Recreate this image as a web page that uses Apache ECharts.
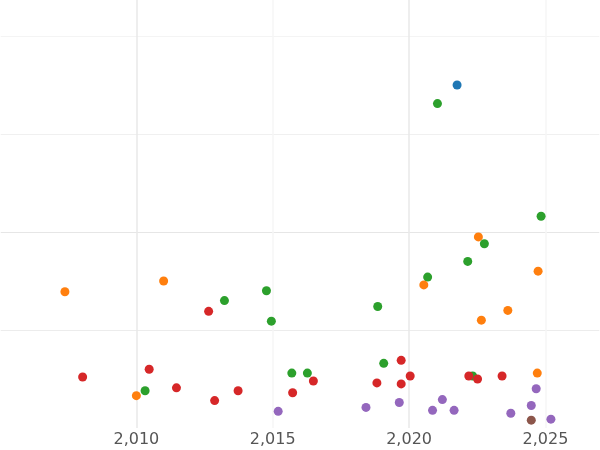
<!DOCTYPE html>
<html><head><meta charset="utf-8">
<script src="https://cdn.jsdelivr.net/npm/echarts@6/dist/echarts.min.js"></script>
<style>html,body{margin:0;padding:0;background:#fff}#c{width:600px;height:450px}</style>
</head><body><div id="c"></div>
<script>
const xTicks = [2005, 2010, 2015, 2020, 2025];
const blue = [[2021.76,3.50]];
const green = [[2021.04,3.31],[2024.84,2.16],[2022.76,1.88],[2022.15,1.70],[2020.68,1.54],[2014.77,1.40],[2013.23,1.30],[2018.85,1.24],[2014.95,1.09],[2019.07,0.66],[2015.70,0.56],[2016.27,0.56],[2010.32,0.38],[2022.33,0.53]];
const orange = [[2007.38,1.39],[2011.0,1.50],[2022.54,1.95],[2024.73,1.60],[2020.54,1.46],[2023.62,1.20],[2022.65,1.10],[2024.70,0.56],[2010.0,0.33]];
const red = [[2008.03,0.52],[2010.47,0.60],[2011.47,0.41],[2012.65,1.19],[2012.87,0.28],[2013.73,0.38],[2015.73,0.36],[2016.49,0.48],[2018.82,0.46],[2019.71,0.69],[2019.71,0.45],[2020.04,0.53],[2022.19,0.53],[2022.51,0.50],[2023.41,0.53]];
const purple = [[2015.20,0.17],[2018.42,0.21],[2019.64,0.26],[2020.86,0.18],[2021.22,0.29],[2021.65,0.18],[2023.73,0.15],[2024.48,0.23],[2024.66,0.40],[2025.20,0.09]];
const brown = [[2024.48,0.08]];
const groups = [[blue,'#1f77b4'],[green,'#2ca02c'],[orange,'#ff7f0e'],[red,'#d62728'],[purple,'#9467bd'],[brown,'#8c564b']];
const chart = echarts.init(document.getElementById('c'));
chart.setOption({
  animation:false,
  grid:{left:-11.5,right:-2.3,top:0,bottom:22},
  xAxis:{type:'value',min:xTicks[0],max:2027,interval:5,
    axisLine:{show:false},axisTick:{show:false},
    axisLabel:{color:'#555',fontSize:16,fontFamily:'DejaVu Sans',margin:4,showMinLabel:false,showMaxLabel:false},
    splitLine:{show:true,lineStyle:{color:['#fff','#e8e8e8','#f6f6f6','#e8e8e8','#f6f6f6'],width:1.5}}},
  yAxis:{type:'value',min:0,max:4.367,interval:1,
    axisLine:{show:false},axisTick:{show:false},axisLabel:{show:false},
    splitLine:{show:true,lineStyle:{color:['transparent','#ececec','#e6e6e6','#f0f0f0','#f4f4f4'],width:1.2}}},
  series:groups.map(([d,c])=>({type:'scatter',data:d,symbolSize:9,itemStyle:{color:c,opacity:1}}))
});
</script></body></html>
